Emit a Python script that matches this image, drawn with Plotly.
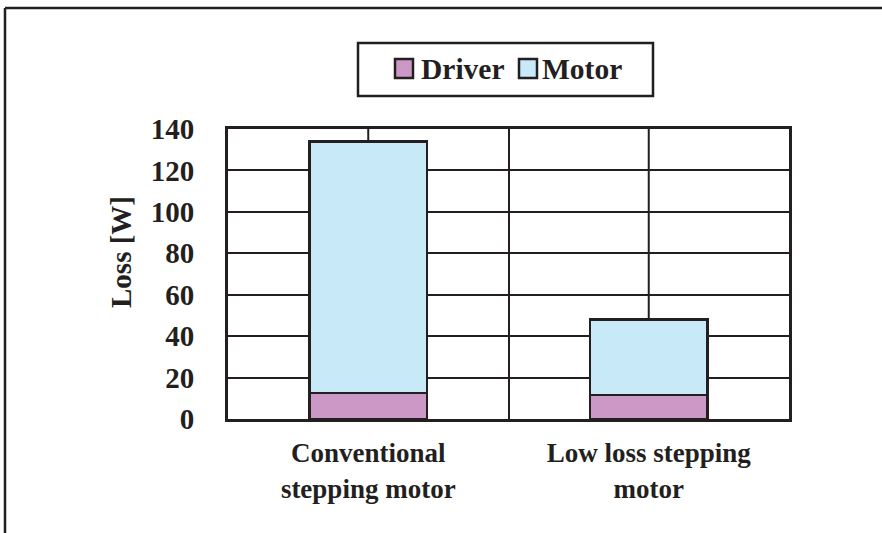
import plotly.graph_objects as go

# Loss breakdown per motor type
categories = ["Conventional<br>stepping motor", "Low loss stepping<br>motor"]
driver_loss = [12.5, 11.5]
motor_loss = [121.5, 36.5]
series_names = ["Driver", "Motor"]
y_ticks = [0, 20, 40, 60, 80, 100, 120, 140]

INK = "#231f20"
DRIVER_COLOR = "#cc99c7"
MOTOR_COLOR = "#c7e9f8"
FONT = "Liberation Serif"

W, H = 882, 533
ML, MR, MT, MB = 228, 93, 129, 114
PW, PH = W - ML - MR, H - MT - MB


def px(x):
    return (x - ML) / PW


def py(y):
    return (H - MB - y) / PH


fig = go.Figure()
fig.add_trace(go.Bar(
    x=categories, y=driver_loss, name=series_names[0], width=0.42,
    marker=dict(color=DRIVER_COLOR, line=dict(color=INK, width=2.5)),
))
fig.add_trace(go.Bar(
    x=categories, y=motor_loss, name=series_names[1], width=0.42,
    marker=dict(color=MOTOR_COLOR, line=dict(color=INK, width=2.5)),
))

shapes = []
# vertical grid lines through category centres (under the bars)
for c in categories:
    shapes.append(dict(type="line", xref="x", yref="paper", x0=c, x1=c, y0=0, y1=1,
                       line=dict(color=INK, width=2), layer="below"))

# outer frame (top and left edges)
shapes.append(dict(type="line", xref="paper", yref="paper",
                   x0=px(5), x1=px(W + 10), y0=py(8), y1=py(8),
                   line=dict(color=INK, width=2.5)))
shapes.append(dict(type="line", xref="paper", yref="paper",
                   x0=px(5), x1=px(5), y0=py(8), y1=py(H + 10),
                   line=dict(color=INK, width=2.5)))

# legend box and swatches
shapes.append(dict(type="rect", xref="paper", yref="paper",
                   x0=px(358), x1=px(653), y0=py(96), y1=py(43),
                   line=dict(color=INK, width=2.5), fillcolor="white"))
legend_items = [(series_names[0], DRIVER_COLOR, 395, 419),
                (series_names[1], MOTOR_COLOR, 519, 540)]
annotations = []
for name, col, sx, tx in legend_items:
    shapes.append(dict(type="rect", xref="paper", yref="paper",
                       x0=px(sx), x1=px(sx + 18), y0=py(78), y1=py(59),
                       line=dict(color=INK, width=2.5), fillcolor=col))
    annotations.append(dict(text=f"<b>{name}</b>", xref="paper", yref="paper",
                            x=px(tx), y=py(69), xanchor="left", yanchor="middle",
                            showarrow=False, font=dict(family=FONT, size=29.5, color=INK)))

annotations.append(dict(text="<b>Loss [W]</b>", xref="paper", yref="paper",
                        x=px(121), y=py(252), textangle=-90,
                        xanchor="center", yanchor="middle", showarrow=False,
                        font=dict(family=FONT, size=29, color=INK)))

fig.update_layout(
    width=W, height=H,
    margin=dict(l=ML, r=MR, t=MT, b=MB, pad=0),
    barmode="stack",
    showlegend=False,
    plot_bgcolor="white",
    paper_bgcolor="white",
    font=dict(family=FONT, color=INK),
    shapes=shapes,
    annotations=annotations,
)
fig.update_xaxes(
    type="category",
    tickson="boundaries",
    showgrid=True, gridcolor=INK, gridwidth=2,
    showline=True, mirror=True, linecolor=INK, linewidth=3,
    ticks="", ticklabelstandoff=8,
    tickfont=dict(family=FONT, size=27, color=INK, weight="bold"),
)
fig.update_yaxes(
    range=[0, 140], tickvals=y_ticks,
    showgrid=True, gridcolor=INK, gridwidth=2,
    showline=True, mirror=True, linecolor=INK, linewidth=3,
    ticks="", ticklabelstandoff=25, zeroline=False,
    tickfont=dict(family=FONT, size=29, color=INK, weight="bold"),
)

fig.write_html("out.html")
